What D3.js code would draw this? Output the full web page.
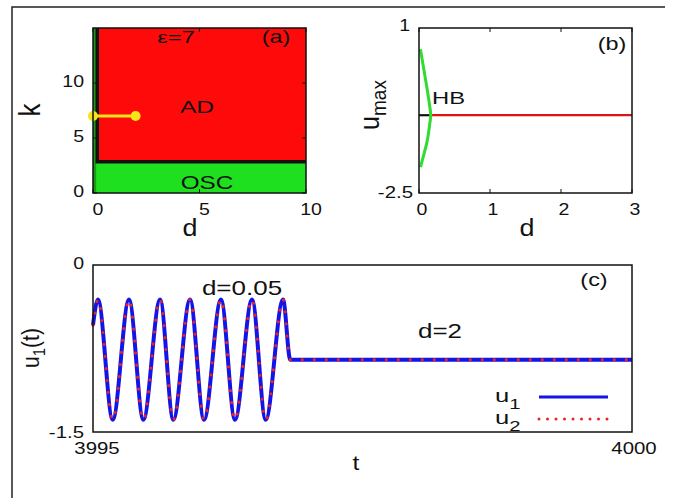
<!DOCTYPE html>
<html>
<head>
<meta charset="utf-8">
<script src="https://cdn.jsdelivr.net/npm/d3@7"></script>
<style>
  body { margin: 0; background: #fff; }
  text { font-family: "Liberation Sans", Arial, sans-serif; fill: #111; }
</style>
</head>
<body>
<div id="chart"></div>
<script>
// ---- panel (a): phase diagram in (d, k) ----
const phaseDomainD = [0, 10];
const phaseDomainK = [0, 15];
const phaseTicksD = [0, 5, 10];
const phaseTicksK = [0, 5, 10];
const oscBandK = [0, 2.85];            // green OSC band
const oscStripD = [0, 0.1];            // thin OSC strip along d = 0
const adBoundary = [[0.2, 15], [0.2, 2.85], [10, 2.85]];
const yellowPath = [[0, 7], [2, 7]];

// ---- panel (b): bifurcation diagram ----
const bifDomainD = [0, 3];
const bifDomainU = [-2.5, 1];
const bifTicksD = [0, 1, 2, 3];
const bifTicksU = [-2.5, 1];
const hbBranch = [[0.02, 0.55], [0.065, 0.15], [0.115, -0.3], [0.15, -0.65], [0.165, -0.85],
                  [0.15, -1.05], [0.115, -1.4], [0.065, -1.7], [0.02, -1.95]];
const unstableSS = [[0, -0.85], [0.165, -0.85]];
const stableSS = [[0.165, -0.85], [3, -0.85]];

// ---- panel (c): time series ----
const timeDomain = [3995, 4000];
const timeU = [-1.5, 0];
const timeTicks = [3995, 4000];
const timeTicksU = [0, -1.5];
const tValues = [3995, 3995.046, 3995.183, 3995.334, 3995.467, 3995.622, 3995.745, 3995.900,
                 3996.030, 3996.187, 3996.317, 3996.475, 3996.602, 3996.763, 3996.83, 4000];
const u1Values = [-0.54, -0.31, -1.39, -0.31, -1.39, -0.31, -1.39, -0.31,
                  -1.39, -0.31, -1.39, -0.31, -1.39, -0.31, -0.85, -0.85];
const u2Values = [-0.54, -0.31, -1.39, -0.31, -1.39, -0.31, -1.39, -0.31,
                  -1.39, -0.31, -1.39, -0.31, -1.39, -0.31, -0.85, -0.85];

const width = 673, height = 498;
const BLUE = "#1414e6", RED = "#e8242a";

let svg = d3.select("#chart").append("svg")
  .attr("width", width)
  .attr("height", height);

svg.append("rect").attr("width", width).attr("height", height).attr("fill", "#fff");

// outer figure frame (top and left edges only)
svg.append("path")
  .attr("d", "M12,498 L12,7 L665,7")
  .attr("fill", "none")
  .attr("stroke", "#222")
  .attr("stroke-width", 1.5);

drawPanelA();
drawPanelB();
drawPanelC();

// text a bit wider than the font, like the original figure
function label(g, x, y, str, size, sx, anchor, middle) {
  return g.append("text")
    .attr("transform", "translate(" + x + "," + y + ") scale(" + sx + ",1)")
    .attr("text-anchor", anchor || "middle")
    .attr("dominant-baseline", middle ? "middle" : null)
    .attr("font-size", size)
    .text(str);
}

function frame(g, x, y, ticksX, ticksY) {
  const [x0, x1] = x.range(), [y0, y1] = y.range();
  ticksX.forEach(function (t) {
    g.append("line").attr("x1", x(t)).attr("x2", x(t)).attr("y1", y0).attr("y2", y0 - 4)
      .attr("stroke", "#111").attr("stroke-width", 1);
    g.append("line").attr("x1", x(t)).attr("x2", x(t)).attr("y1", y1).attr("y2", y1 + 4)
      .attr("stroke", "#111").attr("stroke-width", 1);
  });
  ticksY.forEach(function (t) {
    g.append("line").attr("x1", x0).attr("x2", x0 + 4).attr("y1", y(t)).attr("y2", y(t))
      .attr("stroke", "#111").attr("stroke-width", 1);
    g.append("line").attr("x1", x1).attr("x2", x1 - 4).attr("y1", y(t)).attr("y2", y(t))
      .attr("stroke", "#111").attr("stroke-width", 1);
  });
  g.append("rect")
    .attr("x", x0).attr("y", y1)
    .attr("width", x1 - x0).attr("height", y0 - y1)
    .attr("fill", "none").attr("stroke", "#111").attr("stroke-width", 1.5);
}

function drawPanelA() {
  const x = d3.scaleLinear().domain(phaseDomainD).range([93, 306]);
  const y = d3.scaleLinear().domain(phaseDomainK).range([193, 28]);
  const g = svg.append("g").attr("class", "panelA");

  g.append("rect")
    .attr("x", x(0)).attr("y", y(15))
    .attr("width", x(10) - x(0)).attr("height", y(oscBandK[1]) - y(15))
    .attr("fill", "#ff0a0a");
  g.append("rect")
    .attr("x", x(0)).attr("y", y(oscBandK[1]))
    .attr("width", x(10) - x(0)).attr("height", y(oscBandK[0]) - y(oscBandK[1]))
    .attr("fill", "#1ee01e");
  g.append("rect")
    .attr("x", x(oscStripD[0])).attr("y", y(15))
    .attr("width", x(oscStripD[1]) - x(oscStripD[0]) + 1).attr("height", y(0) - y(15))
    .attr("fill", "#1a9a1a");

  const line = d3.line().x(d => x(d[0])).y(d => y(d[1]));
  g.append("path").attr("d", line(adBoundary))
    .attr("fill", "none").attr("stroke", "#111").attr("stroke-width", 3.5);

  g.append("path").attr("d", line(yellowPath))
    .attr("fill", "none").attr("stroke", "#f4e41a").attr("stroke-width", 3);
  g.selectAll("circle").data(yellowPath).enter().append("circle")
    .attr("cx", d => x(d[0])).attr("cy", d => y(d[1])).attr("r", 5)
    .attr("fill", "#f4e41a");

  frame(g, x, y, phaseTicksD, phaseTicksK);
  phaseTicksD.forEach(d => label(g, x(d) + 5, 211, d, 17, 1.15, "middle", true));
  phaseTicksK.forEach(k => label(g, 84, y(k), k, 17, 1.15, "end", true));

  label(g, 176, 43, "ε=7", 17, 1.4);
  label(g, 276, 43, "(a)", 18, 1.3);
  label(g, 197, 113, "AD", 17, 1.45);
  label(g, 207, 189, "OSC", 18, 1.35);
  label(g, 190, 236, "d", 23, 1.17);
  g.append("text").attr("transform", "translate(40,110) scale(1.15,1) rotate(-90)")
    .attr("text-anchor", "middle").attr("font-size", 26).text("k");
}

function drawPanelB() {
  const x = d3.scaleLinear().domain(bifDomainD).range([419, 632]);
  const y = d3.scaleLinear().domain(bifDomainU).range([193, 28]);
  const g = svg.append("g").attr("class", "panelB");
  const line = d3.line().x(d => x(d[0])).y(d => y(d[1]));

  g.append("path").attr("d", line(stableSS))
    .attr("fill", "none").attr("stroke", "#dd1414").attr("stroke-width", 2.2);
  g.append("path").attr("d", line(unstableSS))
    .attr("fill", "none").attr("stroke", "#111").attr("stroke-width", 2.2);
  g.append("path").attr("d", d3.line().x(d => x(d[0])).y(d => y(d[1])).curve(d3.curveCatmullRom)(hbBranch))
    .attr("fill", "none").attr("stroke", "#2fdc2f").attr("stroke-width", 3);

  frame(g, x, y, bifTicksD, []);
  bifTicksD.forEach(d => label(g, x(d) + 3, 211, d, 17, 1.15, "middle", true));
  label(g, 410, y(1) - 1, "1", 17, 1.15, "end", true);
  label(g, 413, y(-2.5) + 1, "-2.5", 17, 1.2, "end", true);

  label(g, 432, 104, "HB", 17, 1.4, "start");
  label(g, 612, 50, "(b)", 18, 1.3);
  label(g, 527, 236, "d", 23, 1.17);
  const yl = g.append("text").attr("transform", "translate(379,105) scale(1.1,1) rotate(-90)")
    .attr("text-anchor", "middle").attr("font-size", 25);
  yl.append("tspan").text("u");
  yl.append("tspan").attr("font-size", 19).attr("dy", 6).text("max");
}

function drawPanelC() {
  const x = d3.scaleLinear().domain(timeDomain).range([93, 632]);
  const y = d3.scaleLinear().domain(timeU).range([432, 265]);
  const g = svg.append("g").attr("class", "panelC");

  const line = d3.line()
    .x((d, i) => x(tValues[i]))
    .y(d => y(d))
    .curve(d3.curveMonotoneX);

  g.append("path").attr("d", line(u1Values))
    .attr("fill", "none").attr("stroke", BLUE).attr("stroke-width", 4);
  g.append("path").attr("d", line(u2Values))
    .attr("fill", "none").attr("stroke", RED).attr("stroke-width", 3.2)
    .attr("stroke-linecap", "round").attr("stroke-dasharray", "0 12");

  frame(g, x, y, [], []);

  timeTicks.forEach(t => label(g, x(t) + (t === 4000 ? 2 : 4), 450, t, 17, 1.2, "middle", true));
  label(g, 84, y(0), "0", 17, 1.15, "end", true);
  label(g, 84, y(-1.5) + 2, "-1.5", 17, 1.2, "end", true);

  label(g, 242, 295, "d=0.05", 20, 1.3);
  label(g, 440, 338, "d=2", 20, 1.3);
  label(g, 594, 286, "(c)", 18, 1.3);
  label(g, 356, 470, "t", 21, 1.17);

  const yl = g.append("text").attr("transform", "translate(39,348) scale(1.1,1) rotate(-90)")
    .attr("text-anchor", "middle").attr("font-size", 21);
  yl.append("tspan").text("u");
  yl.append("tspan").attr("font-size", 15).attr("dy", 5).text("1");
  yl.append("tspan").attr("dy", -5).text("(t)");

  // legend
  const legend = [
    { name: "1", y: 397, color: BLUE, dash: null },
    { name: "2", y: 419, color: RED, dash: "0 8.5" }
  ];
  legend.forEach(function (l) {
    const t = g.append("text")
      .attr("transform", "translate(495," + (l.y + 5) + ") scale(1.35,1)")
      .attr("font-size", 19);
    t.append("tspan").text("u");
    t.append("tspan").attr("font-size", 15).attr("dy", 7).text(l.name);
    g.append("line").attr("x1", 539).attr("x2", 608).attr("y1", l.y).attr("y2", l.y)
      .attr("stroke", l.color).attr("stroke-width", 3)
      .attr("stroke-linecap", l.dash ? "round" : "butt")
      .attr("stroke-dasharray", l.dash);
  });
}
</script>
</body>
</html>
